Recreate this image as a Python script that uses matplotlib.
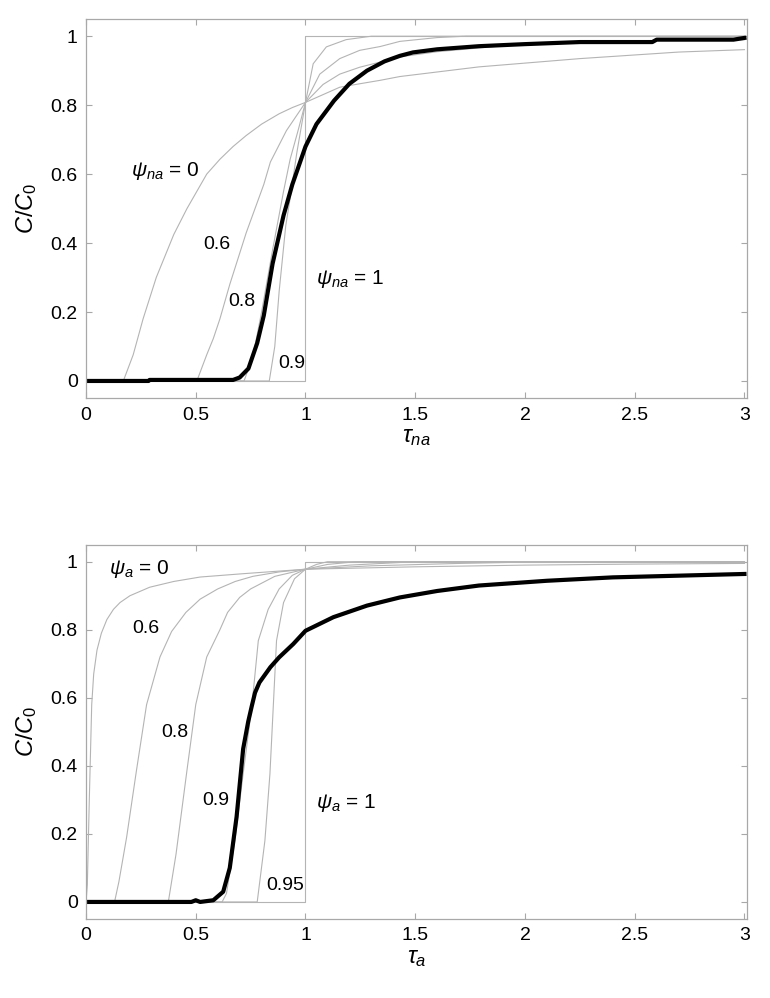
import matplotlib
matplotlib.use("Agg")
import matplotlib.pyplot as plt

plt.rcParams['font.family'] = ['Liberation Sans', 'DejaVu Sans']
plt.rcParams['mathtext.fontset'] = 'custom'
plt.rcParams['mathtext.rm'] = 'Liberation Sans'
plt.rcParams['mathtext.it'] = 'Liberation Sans:italic'

# ---- painel superior (nao adsorvente) ----
tau_na0 = [0, 0.17, 0.215, 0.26, 0.32, 0.40, 0.46, 0.55, 0.61, 0.67, 0.73, 0.80, 0.88, 0.94,
           1.0, 1.156, 1.247, 1.34, 1.43, 1.79, 2.25, 2.70, 3.0]
c_na0 = [0, 0, 0.076, 0.18, 0.30, 0.425, 0.50, 0.60, 0.643, 0.68, 0.712, 0.745, 0.775, 0.793,
         0.808, 0.852, 0.862, 0.872, 0.883, 0.911, 0.935, 0.954, 0.961]
tau_na06 = [0, 0.505, 0.55, 0.58, 0.61, 0.655, 0.70, 0.73, 0.81, 0.84, 0.913, 1.0,
            1.08, 1.156, 1.247, 1.34, 1.43, 1.6, 2.0, 2.5, 3.0]
c_na06 = [0, 0, 0.076, 0.123, 0.18, 0.28, 0.37, 0.43, 0.57, 0.635, 0.726, 0.808,
          0.86, 0.89, 0.91, 0.925, 0.94, 0.955, 0.978, 0.987, 0.99]
tau_na08 = [0, 0.72, 0.76, 0.80, 0.85, 0.90, 0.93, 0.966, 1.0, 1.065, 1.156, 1.247, 1.34,
            1.43, 1.6, 1.73, 3.0]
c_na08 = [0, 0, 0.07, 0.2, 0.38, 0.55, 0.643, 0.726, 0.808, 0.89, 0.935, 0.959, 0.97,
          0.985, 0.996, 1.0, 1.0]
tau_na09 = [0, 0.835, 0.86, 0.88, 0.91, 0.93, 0.96, 1.0, 1.035, 1.095, 1.185, 1.3, 3.0]
c_na09 = [0, 0, 0.1, 0.26, 0.45, 0.53, 0.66, 0.808, 0.92, 0.969, 0.99, 1.0, 1.0]
tau_step = [0, 1, 1, 3]
c_step = [0, 0, 1, 1]
tau_na_exp = [0, 0.285, 0.29, 0.67, 0.70, 0.74, 0.78, 0.81, 0.85, 0.90, 0.94, 1.0, 1.05,
              1.13, 1.2, 1.28, 1.36, 1.43, 1.49, 1.6, 1.79, 2.0, 2.25, 2.58, 2.6, 2.95, 3.0]
c_na_exp = [0, 0, 0.003, 0.003, 0.01, 0.036, 0.11, 0.19, 0.34, 0.48, 0.57, 0.68, 0.745,
            0.813, 0.862, 0.90, 0.927, 0.943, 0.953, 0.962, 0.971, 0.977, 0.983, 0.983,
            0.99, 0.99, 0.995]

# ---- painel inferior (adsorvente) ----
tau_a0 = [0, 0.006, 0.015, 0.026, 0.035, 0.05, 0.07, 0.095, 0.125, 0.155, 0.2, 0.29, 0.40,
          0.52, 0.72, 1.0, 1.5, 2.0, 2.5, 3.0]
c_a0 = [0, 0.05, 0.3, 0.58, 0.67, 0.74, 0.79, 0.83, 0.86, 0.88, 0.90, 0.925, 0.942,
        0.955, 0.965, 0.978, 0.985, 0.99, 0.993, 0.995]
tau_a06 = [0, 0.13, 0.15, 0.185, 0.23, 0.276, 0.337, 0.39, 0.455, 0.52, 0.60, 0.68, 0.76,
           0.88, 1.0, 1.3, 1.7, 2.1, 3.0]
c_a06 = [0, 0, 0.06, 0.19, 0.387, 0.58, 0.72, 0.795, 0.851, 0.89, 0.92, 0.942, 0.957,
         0.97, 0.978, 0.988, 0.995, 1.0, 1.0]
tau_a08 = [0, 0.375, 0.41, 0.46, 0.50, 0.55, 0.61, 0.645, 0.70, 0.75, 0.86, 1.0, 1.2, 1.5, 3.0]
c_a08 = [0, 0, 0.14, 0.387, 0.58, 0.72, 0.80, 0.851, 0.895, 0.92, 0.957, 0.978, 0.99, 1.0, 1.0]
tau_a09 = [0, 0.62, 0.64, 0.678, 0.716, 0.755, 0.785, 0.83, 0.88, 0.94, 1.0, 1.1, 1.23, 3.0]
c_a09 = [0, 0, 0.025, 0.18, 0.377, 0.572, 0.768, 0.86, 0.92, 0.96, 0.978, 0.992, 1.0, 1.0]
tau_a095 = [0, 0.78, 0.815, 0.838, 0.853, 0.868, 0.9, 0.95, 1.0, 1.05, 1.1, 3.0]
c_a095 = [0, 0, 0.18, 0.377, 0.572, 0.768, 0.88, 0.95, 0.978, 0.992, 1.0, 1.0]
tau_a_exp = [0, 0.48, 0.5, 0.52, 0.58, 0.625, 0.655, 0.686, 0.716, 0.739, 0.755, 0.77, 0.79,
             0.84, 0.88, 0.944, 1.0, 1.127, 1.28, 1.43, 1.6, 1.79, 2.1, 2.4, 2.7, 3.0]
c_a_exp = [0, 0, 0.005, 0, 0.005, 0.03, 0.10, 0.25, 0.45, 0.53, 0.575, 0.615, 0.645,
           0.69, 0.719, 0.758, 0.797, 0.837, 0.871, 0.895, 0.914, 0.93, 0.944, 0.954,
           0.959, 0.964]

xticks = [0, 0.5, 1, 1.5, 2, 2.5, 3]
xtick_labels = ['0', '0.5', '1', '1.5', '2', '2.5', '3']
yticks = [0, 0.2, 0.4, 0.6, 0.8, 1]
ytick_labels = ['0', '0.2', '0.4', '0.6', '0.8', '1']

cinza = '#b4b4b4'
eixo = '#a8a8a8'


def prepararEixo(ax, rotulo_x):
    ax.set_xlim(0, 3.01)
    ax.set_ylim(-0.05, 1.05)
    ax.set_xticks(xticks)
    ax.set_xticklabels(xtick_labels)
    ax.set_yticks(yticks)
    ax.set_yticklabels(ytick_labels)
    ax.tick_params(direction='in', length=4, width=0.8, color=eixo, top=True, right=True,
                   labelsize=14, pad=6)
    for s in ax.spines.values():
        s.set_color(eixo)
        s.set_linewidth(0.9)
    ax.set_xlabel(rotulo_x, fontsize=17, labelpad=2)
    ax.set_ylabel('$C/C_0$', fontsize=17, labelpad=8)


fig = plt.figure(figsize=(7.7, 9.98), dpi=100)
ax1 = fig.add_axes([0.1117, 0.601, 0.858, 0.380])
ax2 = fig.add_axes([0.1117, 0.0792, 0.858, 0.375])

for t, c in [(tau_na0, c_na0), (tau_na06, c_na06), (tau_na08, c_na08),
             (tau_na09, c_na09), (tau_step, c_step)]:
    ax1.plot(t, c, color=cinza, lw=0.8)
ax1.plot(tau_na_exp, c_na_exp, color='black', lw=3)
prepararEixo(ax1, r'$\tau_{na}$')
ax1.text(0.205, 0.61, r'$\psi_{na}$ = 0', fontsize=15, va='center')
ax1.text(0.533, 0.397, '0.6', fontsize=14, va='center')
ax1.text(0.646, 0.23, '0.8', fontsize=14, va='center')
ax1.text(0.874, 0.05, '0.9', fontsize=14, va='center')
ax1.text(1.05, 0.297, r'$\psi_{na}$ = 1', fontsize=15, va='center')

for t, c in [(tau_a0, c_a0), (tau_a06, c_a06), (tau_a08, c_a08), (tau_a09, c_a09),
             (tau_a095, c_a095), (tau_step, c_step)]:
    ax2.plot(t, c, color=cinza, lw=0.8)
ax2.plot(tau_a_exp, c_a_exp, color='black', lw=3)
prepararEixo(ax2, r'$\tau_a$')
ax2.text(0.105, 0.98, r'$\psi_a$ = 0', fontsize=15, va='center')
ax2.text(0.21, 0.803, '0.6', fontsize=14, va='center')
ax2.text(0.345, 0.499, '0.8', fontsize=14, va='center')
ax2.text(0.53, 0.298, '0.9', fontsize=14, va='center')
ax2.text(0.82, 0.049, '0.95', fontsize=14, va='center')
ax2.text(1.05, 0.29, r'$\psi_a$ = 1', fontsize=15, va='center')

fig.savefig('out.png', dpi=100)
